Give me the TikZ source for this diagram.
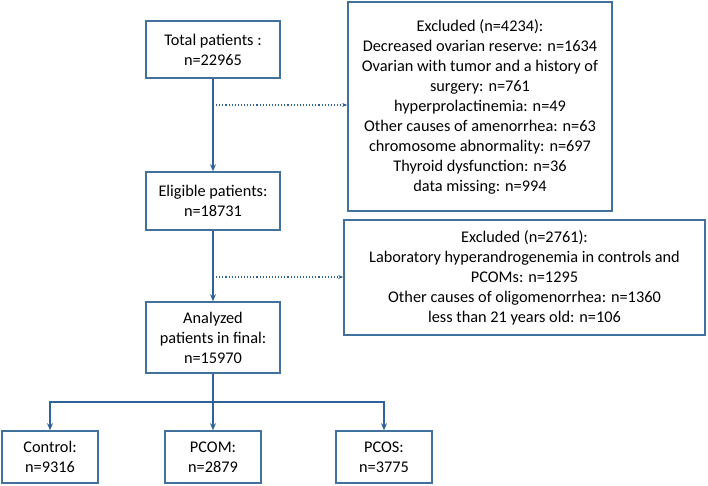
\documentclass[tikz,border=0pt]{standalone}
\usepackage{fontspec}
\setmainfont{Carlito}
\usetikzlibrary{arrows.meta}

\definecolor{boxblue}{HTML}{41719C}
\definecolor{linkblue}{HTML}{2E6299}

\tikzset{
  flowbox/.style={draw=boxblue,line width=1.6pt,align=center,inner sep=0pt,
    font=\fontsize{16.3}{20}\selectfont},
  mainarrow/.style={draw=linkblue,line width=1.2pt,-{Stealth[length=7pt,width=6pt]}},
  dotarrow/.style={draw=linkblue,line width=1.1pt,dotted,-{Stealth[length=5pt,width=4pt]}}
}

\begin{document}
\begin{tikzpicture}[x=1pt,y=-1pt]
      \useasboundingbox (0,0) rectangle (708,486);
      \node[flowbox,minimum width=134pt,minimum height=57pt] (total) at (213,49.5) {Total patients :\\n=22965};
      \node[flowbox,minimum width=264pt,minimum height=209pt] (excla) at (480,106.5)
        {Excluded (n=4234):\\Decreased ovarian reserve: n=1634\\Ovarian with tumor and a history of\\surgery: n=761\\hyperprolactinemia: n=49\\Other causes of amenorrhea: n=63\\chromosome abnormality: n=697\\Thyroid dysfunction: n=36\\data missing: n=994};
      \node[flowbox,minimum width=134pt,minimum height=58pt] (elig) at (213,201) {Eligible patients:\\n=18731};
      \node[flowbox,minimum width=361pt,minimum height=115pt] (exclb) at (524.5,277.5)
        {Excluded (n=2761):\\Laboratory hyperandrogenemia in controls and\\PCOMs: n=1295\\Other causes of oligomenorrhea: n=1360\\less than 21 years old: n=106};
      \node[flowbox,minimum width=134pt,minimum height=71pt] (anal) at (213,337.5) {Analyzed\\patients in final:\\n=15970};
      \node[flowbox,minimum width=96pt,minimum height=52pt] (ctrl) at (50,457) {Control:\\n=9316};
      \node[flowbox,minimum width=96pt,minimum height=52pt] (pcom) at (213,457) {PCOM:\\n=2879};
      \node[flowbox,minimum width=96pt,minimum height=52pt] (pcos) at (384,457) {PCOS:\\n=3775};
      % main flow
      \draw[mainarrow] (total) -- (elig);
      \draw[mainarrow] (elig) -- (anal);
      \coordinate (exa) at (213,105);
      \coordinate (exb) at (213,277);
      \draw[dotarrow] (exa) -- (exa -| excla.west);
      \draw[dotarrow] (exb) -- (exb -| exclb.west);
      % split into groups
      \coordinate (split) at (213,402);
      \draw[mainarrow] (anal) -- (pcom);
      \draw[mainarrow] (split) -| (ctrl.north);
      \draw[mainarrow] (split) -| (pcos.north);
    \end{tikzpicture}
\end{document}
